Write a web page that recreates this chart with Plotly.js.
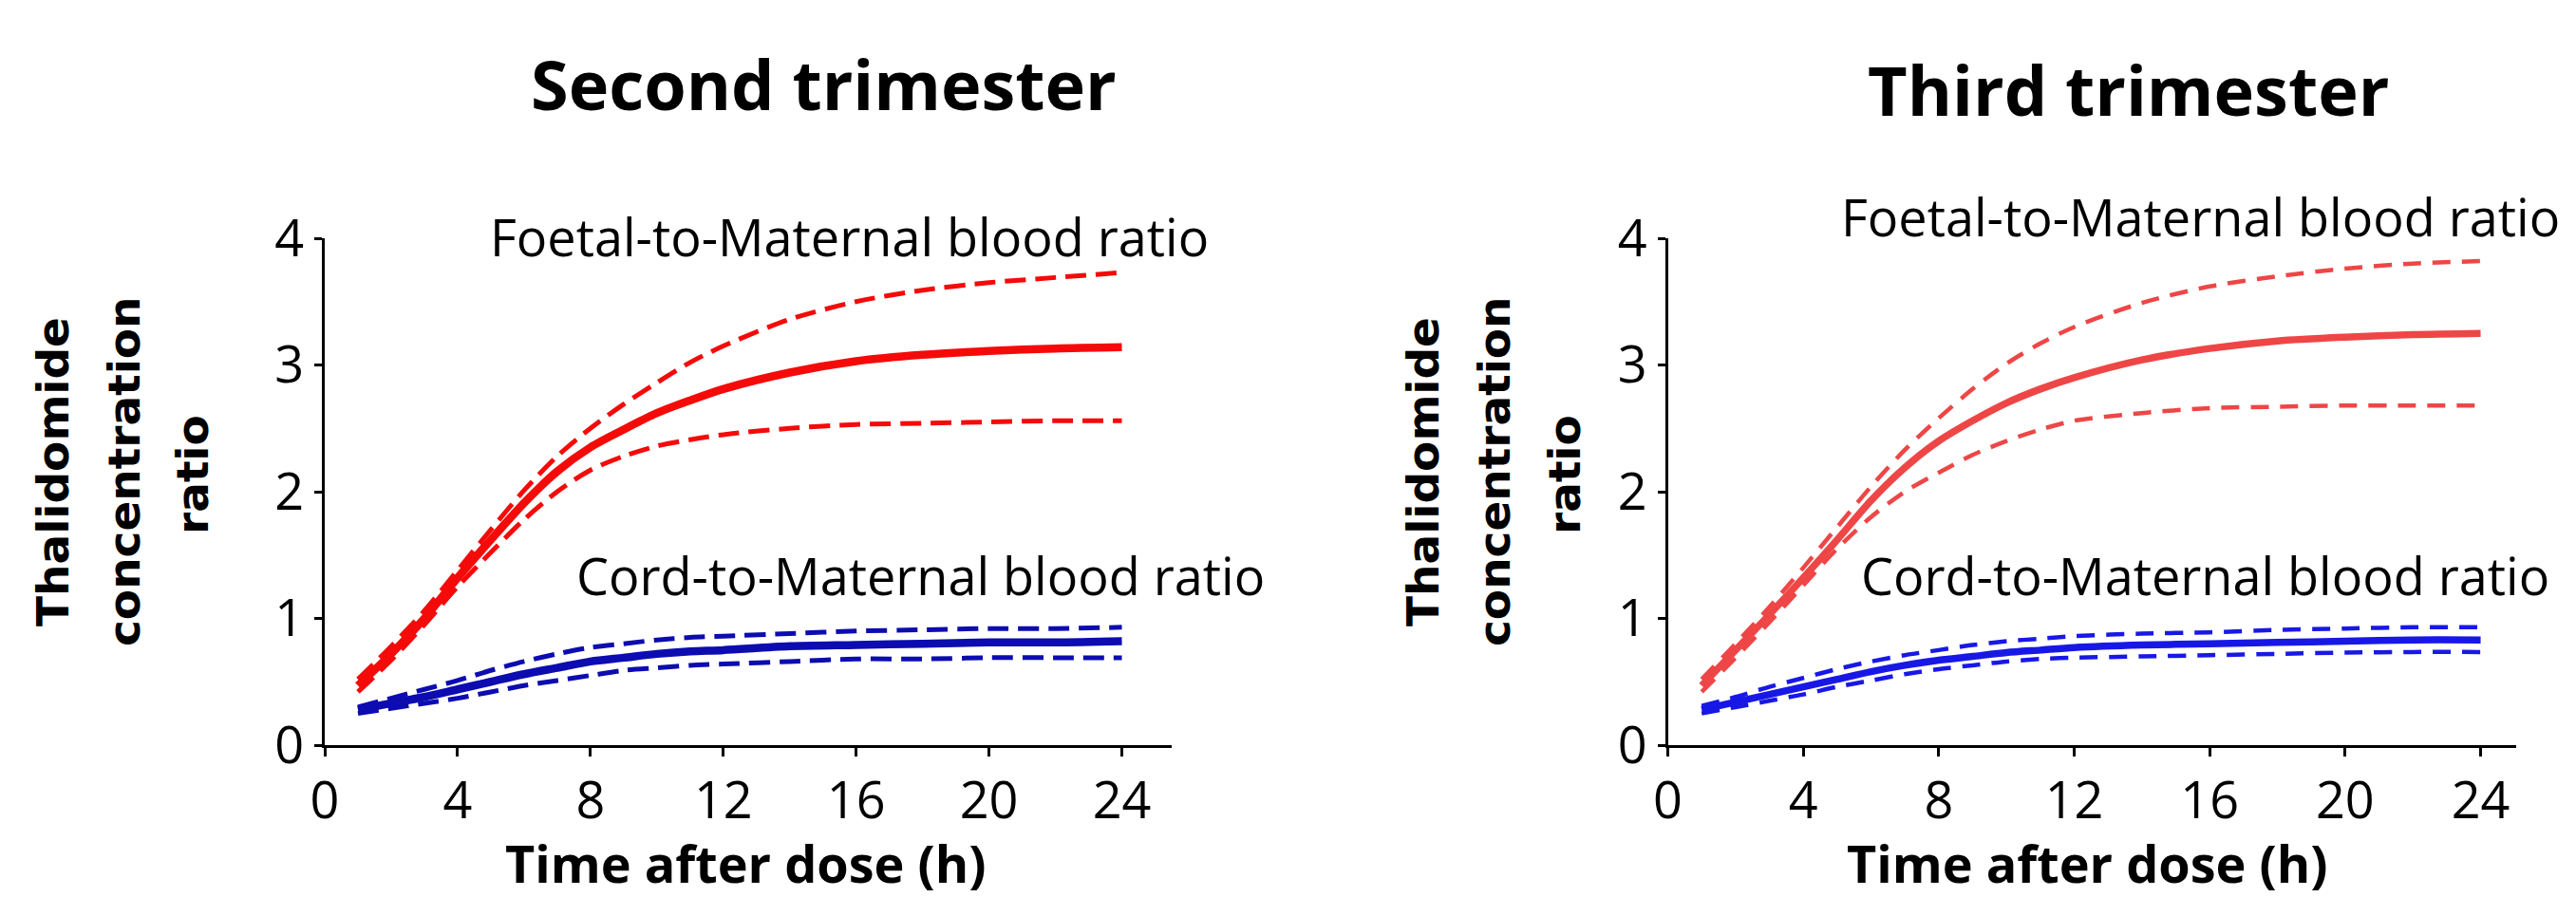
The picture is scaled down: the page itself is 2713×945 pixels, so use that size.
<!DOCTYPE html>
<html>
<head>
<meta charset="utf-8">
<script src="https://cdn.plot.ly/plotly-3.0.1.min.js"></script>
<style>html,body{margin:0;padding:0;background:#fff;}#chart{width:2713px;height:945px;}</style>
</head>
<body>
<div id="chart"></div>
<script>
// ---- data ----
const time = [1,2,3,4,5,6,7,8,9,10,11,12,14,16,18,20,22,24];
const xTicks = [0,4,8,12,16,20,24];
const yTicks = [0,1,2,3,4];

// Second trimester
const t2FoetalMean  = [0.47,0.72,1.00,1.32,1.62,1.91,2.16,2.35,2.49,2.62,2.72,2.81,2.94,3.03,3.08,3.11,3.13,3.14];
const t2FoetalUpper = [0.52,0.78,1.06,1.38,1.70,2.01,2.28,2.50,2.69,2.86,3.02,3.15,3.36,3.50,3.59,3.65,3.69,3.73];
const t2FoetalLower = [0.42,0.67,0.95,1.25,1.52,1.78,2.00,2.17,2.28,2.36,2.41,2.45,2.50,2.53,2.54,2.55,2.56,2.56];
const t2CordMean    = [0.28,0.33,0.38,0.44,0.50,0.56,0.61,0.66,0.69,0.72,0.74,0.75,0.78,0.79,0.80,0.81,0.81,0.82];
const t2CordUpper   = [0.30,0.37,0.44,0.51,0.59,0.66,0.72,0.77,0.80,0.83,0.85,0.86,0.88,0.90,0.91,0.92,0.92,0.93];
const t2CordLower   = [0.25,0.29,0.33,0.37,0.42,0.47,0.51,0.55,0.59,0.61,0.63,0.64,0.66,0.68,0.68,0.69,0.69,0.69];

// Third trimester
const t3FoetalMean  = [0.47,0.75,1.03,1.32,1.62,1.93,2.19,2.40,2.56,2.70,2.81,2.90,3.04,3.13,3.19,3.22,3.24,3.25];
const t3FoetalUpper = [0.52,0.80,1.09,1.40,1.72,2.04,2.33,2.58,2.81,3.01,3.17,3.30,3.49,3.62,3.70,3.76,3.80,3.82];
const t3FoetalLower = [0.42,0.69,0.97,1.26,1.55,1.80,2.00,2.15,2.29,2.40,2.49,2.56,2.62,2.66,2.67,2.68,2.68,2.68];
const t3CordMean    = [0.28,0.34,0.40,0.46,0.52,0.58,0.63,0.67,0.70,0.73,0.75,0.77,0.79,0.80,0.81,0.82,0.83,0.83];
const t3CordUpper   = [0.31,0.38,0.46,0.53,0.60,0.66,0.71,0.75,0.79,0.82,0.84,0.86,0.88,0.89,0.91,0.92,0.93,0.93];
const t3CordLower   = [0.25,0.30,0.35,0.40,0.46,0.51,0.56,0.60,0.63,0.66,0.68,0.69,0.70,0.71,0.72,0.73,0.735,0.735];

const panelTitles = ['Second trimester','Third trimester'];
const foetalLabel = 'Foetal-to-Maternal blood ratio';
const cordLabel = 'Cord-to-Maternal blood ratio';
const xTitle = 'Time after dose (h)';
const yTitleLines = ['Thalidomide','concentration','ratio'];

// ---- styling ----
const red2 = '#f50a0a', blue2 = '#0c0cb0';
const red3 = '#ee4646', blue3 = '#1818e6';

function line(x, y, color, width, dash, xa, ya) {
  return {x: x, y: y, type: 'scatter', mode: 'lines', xaxis: xa, yaxis: ya,
    line: {color: color, width: width, dash: dash, shape: 'spline', smoothing: 0.8},
    hoverinfo: 'skip', showlegend: false};
}
const d2 = '22px,10px', d3 = '19px,12px';
const traces = [
  line(time, t2FoetalUpper, red2, 5, d2, 'x', 'y'),
  line(time, t2FoetalLower, red2, 5, d2, 'x', 'y'),
  line(time, t2CordUpper, blue2, 5, d2, 'x', 'y'),
  line(time, t2CordLower, blue2, 5, d2, 'x', 'y'),
  line(time, t2FoetalMean, red2, 8.5, 'solid', 'x', 'y'),
  line(time, t2CordMean, blue2, 8.5, 'solid', 'x', 'y'),
  line(time, t3FoetalUpper, red3, 4.5, d3, 'x2', 'y2'),
  line(time, t3FoetalLower, red3, 4.5, d3, 'x2', 'y2'),
  line(time, t3CordUpper, blue3, 4.5, d3, 'x2', 'y2'),
  line(time, t3CordLower, blue3, 4.5, d3, 'x2', 'y2'),
  line(time, t3FoetalMean, red3, 7.5, 'solid', 'x2', 'y2'),
  line(time, t3CordMean, blue3, 7.5, 'solid', 'x2', 'y2')
];

const tickFont = {family: 'Open Sans', size: 54, color: '#000'};
function xaxis(domain, range, anchor) {
  return {domain: domain, range: range, anchor: anchor, tickmode: 'array', tickvals: xTicks,
    ticktext: xTicks.map(String), ticks: 'outside', ticklen: 9, tickwidth: 3, tickcolor: '#000',
    showline: true, linewidth: 3, linecolor: '#000', showgrid: false, zeroline: false,
    tickfont: tickFont, fixedrange: true};
}
function yaxis(domain, anchor) {
  return {domain: domain, range: [0, 4], anchor: anchor, tickmode: 'array', tickvals: yTicks,
    ticktext: yTicks.map(String), ticks: 'outside', ticklen: 8, tickwidth: 3, tickcolor: '#000',
    showline: true, linewidth: 3, linecolor: '#000', showgrid: false, zeroline: false,
    tickfont: tickFont, fixedrange: true};
}
const W = 2713, H = 945;
const px = v => v / W, py = v => (H - v) / H;
const yDom = [py(785), py(251)];

const titleFont = {family: 'Open Sans', size: 72, color: '#000', weight: 700};
const labelFont = {family: 'Open Sans', size: 54, color: '#000'};
const xTitleFont = {family: 'Open Sans', size: 54, color: '#000', weight: 700};
const yTitleFont = {family: 'DejaVu Sans', size: 47, color: '#000', weight: 700};

function ann(text, x, y, font, xanchor, extra) {
  return Object.assign({text: text, x: x, y: y, xref: 'paper', yref: 'paper', xanchor: xanchor,
    yanchor: 'middle', showarrow: false, font: font}, extra || {});
}
const annotations = [
  ann(panelTitles[0], px(867), py(88), titleFont, 'center'),
  ann(panelTitles[1], px(2241), py(94), titleFont, 'center'),
  ann(foetalLabel, px(514), py(249), labelFont, 'left'),
  ann(cordLabel, px(605), py(606), labelFont, 'left'),
  ann(foetalLabel, px(1937), py(228), labelFont, 'left'),
  ann(cordLabel, px(1958), py(606), labelFont, 'left'),
  ann(xTitle, px(785), py(909), xTitleFont, 'center'),
  ann(xTitle, px(2198), py(909), xTitleFont, 'center'),
  ann(yTitleLines[0], px(55), py(497), yTitleFont, 'center', {textangle: -90}),
  ann(yTitleLines[1], px(130), py(497), yTitleFont, 'center', {textangle: -90}),
  ann(yTitleLines[2], px(202), py(500), yTitleFont, 'center', {textangle: -90}),
  ann(yTitleLines[0], px(1498), py(497), yTitleFont, 'center', {textangle: -90}),
  ann(yTitleLines[1], px(1573), py(497), yTitleFont, 'center', {textangle: -90}),
  ann(yTitleLines[2], px(1647), py(500), yTitleFont, 'center', {textangle: -90})
];

const layout = {
  width: W, height: H, margin: {l: 0, r: 0, t: 0, b: 0},
  paper_bgcolor: '#fff', plot_bgcolor: '#fff', showlegend: false,
  xaxis: xaxis([px(342), px(1234)], [0, 25.5], 'y'),
  yaxis: yaxis(yDom, 'x'),
  xaxis2: xaxis([px(1756.5), px(2650)], [0, 25.05], 'y2'),
  yaxis2: yaxis(yDom, 'x2'),
  annotations: annotations
};
Plotly.newPlot('chart', traces, layout, {displayModeBar: false, staticPlot: true});
</script>
</body>
</html>
